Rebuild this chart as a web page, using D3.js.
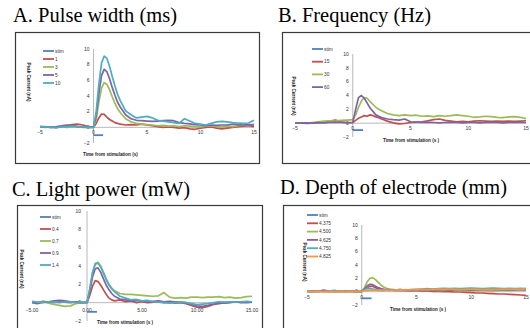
<!DOCTYPE html>
<html>
<head>
<meta charset="utf-8">
<script src="https://cdn.jsdelivr.net/npm/d3@7"></script>
<style>
  html, body { margin: 0; padding: 0; background: #fff; }
  svg { display: block; }
</style>
</head>
<body>
<div id="chart"></div>
<script>
// sample times (s) shared by every trace
const time = [-5, -4.5, -4, -3.5, -3, -2.5, -2, -1.5, -1, -0.5, 0,
  0.25, 0.5, 0.75, 1, 1.25, 1.5, 1.75, 2, 2.25, 2.5,
  3, 3.5, 4, 4.5, 5, 5.5, 6, 6.5, 7, 7.5, 8, 8.5, 9, 9.5, 10, 10.5, 11, 11.5, 12, 12.5, 13, 13.5, 14, 14.5, 15];

// stimulation marker
const stimTime = [0, 0.9];
const stimLevel = [-1, -1];

// A. pulse width
const pulseLabels = ['stim', '1', '3', '5', '10'];
const pw1 = [0.1, 0.0, 0.05, -0.05, 0.1, 0.2, 0.35, 0.4, 0.3, 0.1, 0.0,
  0.5, 1.2, 1.7, 1.65, 1.3, 1.0, 0.8, 0.6, 0.5, 0.4,
  0.3, 0.35, 0.3, 0.4, 0.3, 0.2, 0.1, 0.0, 0.05, 0.0, -0.1, -0.05, -0.2, -0.25, -0.1, 0.0, 0.05, -0.1, -0.2, -0.1, 0.0, 0.1, 0.15, 0.2, 0.1];
const pw3 = [0.05, 0.1, 0.0, 0.05, 0.1, 0.0, 0.05, 0.1, 0.0, -0.05, 0.0,
  1.0, 3.2, 5.0, 5.7, 5.5, 4.8, 3.9, 3.1, 2.4, 1.9,
  1.1, 0.7, 0.5, 0.4, 0.35, 0.3, 0.2, 0.25, 0.15, 0.2, 0.1, 0.2, 0.15, 0.1, 0.05, 0.15, 0.2, 0.1, 0.05, 0.15, 0.1, 0.2, 0.3, 0.25, 0.4];
const pw5 = [0.1, 0.05, 0.0, 0.05, 0.2, 0.3, 0.25, 0.1, 0.05, 0.0, 0.05,
  1.5, 4.3, 6.6, 7.4, 7.1, 6.2, 5.1, 4.1, 3.2, 2.6,
  1.6, 1.1, 0.9, 0.85, 0.8, 0.75, 0.8, 0.85, 0.9, 0.85, 0.6, 0.5, 0.45, 0.35, 0.3, 0.2, 0.3, 0.25, 0.3, 0.3, 0.4, 0.35, 0.3, 0.35, 0.3];
const pw10 = [0.1, 0.05, 0.0, -0.05, 0.05, 0.1, 0.15, 0.1, 0.05, 0.0, 0.0,
  2.0, 5.5, 8.2, 9.1, 8.8, 7.8, 6.5, 5.3, 4.2, 3.4,
  2.1, 1.6, 1.2, 1.3, 1.4, 1.2, 0.9, 0.8, 0.7, 0.6, 0.5, 1.1, 0.8, 0.5, 0.4, 0.3, 0.5, 0.7, 0.75, 0.7, 0.6, 0.55, 0.5, 0.55, 0.9];

// B. frequency
const freqLabels = ['stim', '15', '30', '60'];
const fq15 = [0.0, 0.05, -0.05, 0.0, 0.05, 0.1, 0.3, 0.45, 0.2, 0.1, 0.1,
  0.4, 0.7, 0.9, 1.1, 1.0, 1.2, 1.1, 0.9, 0.8, 0.6,
  0.3, 0.05, -0.1, -0.05, 0.1, 0.15, 0.2, 0.35, 0.5, 0.6, 0.4, 0.3, 0.2, 0.25, 0.2, 0.3, 0.35, 0.3, 0.25, 0.3, 0.25, 0.3, 0.25, 0.3, 0.35];
const fq30 = [0.0, 0.05, 0.0, 0.1, 0.2, 0.3, 0.35, 0.3, 0.4, 0.45, 0.5,
  1.2, 2.3, 3.2, 3.7, 3.6, 3.1, 2.7, 2.3, 2.0, 1.8,
  1.4, 1.2, 1.1, 1.2, 1.1, 1.15, 1.0, 1.05, 0.95, 1.1, 1.0, 1.1, 1.2, 1.1, 1.0, 0.85, 0.9, 1.0, 0.95, 0.85, 0.8, 0.9, 0.95, 0.85, 0.65];
const fq60 = [0.05, 0.0, 0.05, 0.0, 0.1, 0.05, 0.1, 0.15, 0.1, 0.05, 0.1,
  2.0, 3.7, 4.0, 3.6, 2.9, 2.2, 1.7, 1.2, 1.0, 0.8,
  0.6, 0.5, 0.45, 0.6, 0.2, 0.15, 0.1, 0.15, 0.1, 0.05, 0.1, 0.15, 0.1, 0.05, 0.1, 0.1, 0.05, 0.1, 0.15, 0.1, 0.05, 0.1, 0.1, 0.15, 0.1];

// C. light power
const powerLabels = ['stim', '0.4', '0.7', '0.9', '1.4'];
const lp04 = [0.1, 0.0, 0.15, 0.05, 0.0, 0.1, 0.05, 0.0, 0.1, 0.0, 0.0,
  0.8, 1.8, 2.4, 2.3, 1.9, 1.4, 0.9, 0.5, 0.3, 0.2,
  0.3, 0.1, 0.2, 0.0, 0.1, 0.0, 0.05, 0.1, 0.0, 0.05, -0.05, 0.0, -0.1, -0.3, -0.5, -0.55, -0.4, -0.2, -0.1, 0.0, 0.05, 0.1, 0.0, 0.05, 0.1];
const lp07 = [0.05, 0.0, 0.1, -0.05, -0.2, -0.3, -0.4, -0.35, -0.1, 0.0, 0.0,
  1.4, 3.2, 4.3, 4.4, 4.0, 3.3, 2.6, 2.0, 1.6, 1.3,
  1.0, 0.9, 0.9, 0.85, 0.8, 0.75, 0.7, 0.75, 1.1, 0.6, 0.5, 0.55, 0.5, 0.6, 0.6, 0.55, 0.6, 0.6, 0.65, 0.55, 0.6, 0.5, 0.55, 0.65, 0.7];
const lp09 = [0.0, -0.1, 0.05, 0.1, 0.2, 0.25, 0.2, 0.1, 0.05, 0.0, 0.05,
  1.2, 2.8, 3.7, 3.8, 3.3, 2.6, 1.9, 1.4, 1.0, 0.7,
  0.4, 0.3, 0.2, 0.25, 0.2, 0.1, 0.15, 0.2, 0.1, 0.15, 0.1, 0.05, 0.0, -0.2, -0.35, -0.4, -0.3, -0.15, 0.0, -0.05, 0.0, 0.1, 0.05, 0.0, 0.05];
const lp14 = [0.15, 0.05, 0.0, 0.1, 0.05, 0.0, 0.1, 0.05, 0.0, 0.05, 0.0,
  1.5, 3.3, 4.2, 4.3, 3.9, 3.2, 2.5, 1.9, 1.5, 1.2,
  0.7, 0.5, 0.3, 0.35, 0.2, 0.25, 0.1, 0.05, 0.0, -0.05, 0.0, 0.05, 0.0, -0.1, -0.2, -0.15, -0.1, 0.0, 0.1, 0.05, 0.1, 0.05, 0.1, 0.15, 0.1];

// D. depth of electrode
const depthLabels = ['stim', '4.375', '4.500', '4.625', '4.750', '4.825'];
const de4375 = [0.05, 0.0, 0.1, 0.05, 0.0, 0.05, 0.1, 0.05, 0.0, 0.05, 0.0,
  0.3, 0.6, 0.8, 0.8, 0.6, 0.45, 0.35, 0.3, 0.25, 0.25,
  0.2, 0.2, 0.15, 0.2, 0.15, 0.1, 0.1, 0.05, 0.05, 0.0, 0.0, -0.05, -0.05, -0.1, -0.15, -0.2, -0.2, -0.25, -0.3, -0.35, -0.35, -0.4, -0.45, -0.5, -0.55];
const de4500 = [0.1, 0.05, 0.1, 0.05, 0.1, 0.0, 0.05, 0.1, 0.05, 0.0, 0.05,
  0.6, 1.5, 2.0, 2.1, 1.8, 1.4, 1.0, 0.7, 0.5, 0.4,
  0.3, 0.25, 0.3, 0.25, 0.2, 0.25, 0.2, 0.25, 0.2, 0.2, 0.25, 0.2, 0.15, 0.2, 0.2, 0.15, 0.2, 0.2, 0.15, 0.2, 0.25, 0.2, 0.25, 0.3, 0.25];
const de4625 = [0.05, 0.1, 0.0, 0.25, 0.1, 0.05, 0.0, 0.05, 0.1, 0.0, 0.05,
  0.4, 0.9, 1.1, 1.05, 0.8, 0.6, 0.45, 0.35, 0.3, 0.3,
  0.25, 0.3, 0.25, 0.2, 0.25, 0.3, 0.25, 0.3, 0.35, 0.3, 0.25, 0.3, 0.35, 0.3, 0.25, 0.3, 0.35, 0.3, 0.3, 0.35, 0.3, 0.25, 0.3, 0.35, 0.3];
const de4750 = [0.0, 0.05, 0.0, 0.05, 0.1, 0.2, 0.05, 0.0, 0.1, 0.05, 0.0,
  0.3, 0.5, 0.45, 0.4, 0.3, 0.25, 0.2, 0.2, 0.25, 0.2,
  0.25, 0.3, 0.25, 0.3, 0.35, 0.4, 0.45, 0.4, 0.45, 0.5, 0.45, 0.5, 0.45, 0.5, 0.55, 0.5, 0.45, 0.5, 0.55, 0.5, 0.45, 0.5, 0.45, 0.5, 0.45];
const de4825 = [0.05, 0.0, 0.05, 0.0, 0.05, 0.0, 0.05, 0.0, 0.05, 0.0, 0.05,
  0.15, 0.2, 0.25, 0.2, 0.25, 0.2, 0.25, 0.2, 0.25, 0.2,
  0.25, 0.3, 0.25, 0.3, 0.3, 0.35, 0.3, 0.35, 0.4, 0.35, 0.4, 0.35, 0.3, 0.35, 0.4, 0.35, 0.3, 0.35, 0.3, 0.35, 0.4, 0.35, 0.4, 0.35, 0.45];

const xTicks = [-5, 0, 5, 10, 15];
const yTicks = [-2, 0, 2, 4, 6, 8, 10];

// Excel 2010 palette
const colors = ['#4F81BD', '#C0504D', '#9BBB59', '#8064A2', '#4BACC6', '#F79646'];

const width = 530;
const height = 328;

// layout of each panel (pixels)
const panels = [
  {
    title: 'A. Pulse width (ms)', tx: 13, ty: 22, tw: 164,
    box: [15, 32, 259, 163], xr: [40, 254], yr: [143, 49],
    labels: pulseLabels, series: [pw1, pw3, pw5, pw10],
    leg: [43, 51, 8], xLabDy: 7, yLabGap: 4,
    xTitle: ['Time from stimulation (s)', 83, 156], yTitle: [27, 82],
    fmt: d3.format('d'),
  },
  {
    title: 'B. Frequency (Hz)', tx: 278, ty: 22, tw: 153,
    box: [282, 32, 531, 163], xr: [295, 526], yr: [137, 54],
    labels: freqLabels, series: [fq15, fq30, fq60],
    leg: [312, 49, 12.7], xLabDy: 7, yLabGap: 4,
    xTitle: ['Time from stimulation (s )', 383, 142], yTitle: [292, 96],
    fmt: d3.format('d'),
  },
  {
    title: 'C. Light power (mW)', tx: 12, ty: 196, tw: 178,
    box: [17, 205, 262, 340], xr: [32, 252], yr: [321, 211],
    labels: powerLabels, series: [lp04, lp07, lp09, lp14],
    leg: [40, 217, 12], xLabDy: 9.5, yLabGap: 6,
    xTitle: ['Time from stimulation (s )', 97, 324], yTitle: [20, 269],
    fmt: d3.format('.2f'),
  },
  {
    title: 'D. Depth of electrode (mm)', tx: 280, ty: 194, tw: 227,
    box: [283, 205, 540, 340], xr: [307, 526], yr: [305, 225],
    labels: depthLabels, series: [de4375, de4500, de4625, de4750, de4825],
    leg: [307, 215, 8.3], xLabDy: 7.5, yLabGap: 4,
    xTitle: ['Time from stimulation (s )', 390, 311], yTitle: [303, 262],
    fmt: d3.format('d'),
  },
];

const svg = d3.select('#chart')
  .append('svg')
  .attr('width', width)
  .attr('height', height);

panels.forEach((p) => {
  const g = svg.append('g');
  const x = d3.scaleLinear().domain([-5, 15]).range(p.xr);
  const y = d3.scaleLinear().domain([-2, 10]).range(p.yr);

  // titulo
  g.append('text')
    .attr('x', p.tx)
    .attr('y', p.ty)
    .attr('font-family', '"Liberation Serif", "Times New Roman", serif')
    .attr('font-size', 20.5)
    .attr('fill', '#000')
    .attr('textLength', p.tw)
    .attr('lengthAdjust', 'spacingAndGlyphs')
    .text(p.title);

  // marco
  const [bx0, by0, bx1, by1] = p.box;
  g.append('rect')
    .attr('x', bx0 + 0.5)
    .attr('y', by0 + 0.5)
    .attr('width', bx1 - bx0)
    .attr('height', by1 - by0)
    .attr('fill', 'none')
    .attr('stroke', '#3a3a3a')
    .attr('stroke-width', 1.2);

  // ejes cruzando en el origen
  g.append('line')
    .attr('x1', x(-5)).attr('x2', x(15))
    .attr('y1', y(0)).attr('y2', y(0))
    .attr('stroke', '#a6a6a6').attr('stroke-width', 0.8);
  g.append('line')
    .attr('x1', x(0)).attr('x2', x(0))
    .attr('y1', y(10)).attr('y2', y(-2))
    .attr('stroke', '#a6a6a6').attr('stroke-width', 0.8);

  g.selectAll('.xt')
    .data(xTicks)
    .enter()
    .append('text')
    .attr('x', (d) => x(d))
    .attr('y', y(0) + p.xLabDy)
    .attr('text-anchor', 'middle')
    .attr('font-family', '"Liberation Sans", Arial, sans-serif')
    .attr('font-size', 5)
    .attr('fill', '#333')
    .text((d) => p.fmt(d).replace('-', '\u2212'));

  g.selectAll('.yt')
    .data(yTicks)
    .enter()
    .append('text')
    .attr('x', x(0) - p.yLabGap)
    .attr('y', (d) => y(d) + 1.8)
    .attr('text-anchor', 'end')
    .attr('font-family', '"Liberation Sans", Arial, sans-serif')
    .attr('font-size', 5)
    .attr('fill', '#333')
    .text((d) => String(d).replace('-', '\u2212'));

  // titulos de ejes
  g.append('text')
    .attr('x', p.xTitle[1])
    .attr('y', p.xTitle[2])
    .attr('font-family', '"Liberation Sans", Arial, sans-serif')
    .attr('font-size', 4.6)
    .attr('font-weight', 'bold')
    .attr('fill', '#222')
    .text(p.xTitle[0]);

  g.append('text')
    .attr('transform', `translate(${p.yTitle[0]},${p.yTitle[1]}) rotate(90)`)
    .attr('text-anchor', 'middle')
    .attr('font-family', '"Liberation Sans", Arial, sans-serif')
    .attr('font-size', 4.6)
    .attr('font-weight', 'bold')
    .attr('fill', '#222')
    .text('Peak Current (nA)');

  // trazos
  const line = d3.line()
    .x((d) => x(d[0]))
    .y((d) => y(d[1]));

  g.append('path')
    .datum(d3.zip(stimTime, stimLevel))
    .attr('d', line)
    .attr('fill', 'none')
    .attr('stroke', colors[0])
    .attr('stroke-width', 1.8);

  p.series.forEach((vals, i) => {
    g.append('path')
      .datum(d3.zip(time, vals))
      .attr('d', line)
      .attr('fill', 'none')
      .attr('stroke', colors[i + 1])
      .attr('stroke-width', 1.7)
      .attr('stroke-linejoin', 'round');
  });

  // leyenda
  const [lx, ly, ldy] = p.leg;
  const leg = g.selectAll('.leg')
    .data(p.labels)
    .enter()
    .append('g')
    .attr('transform', (d, i) => `translate(${lx},${ly + i * ldy})`);
  leg.append('line')
    .attr('x1', 0).attr('x2', 11)
    .attr('stroke', (d, i) => colors[i])
    .attr('stroke-width', 1.8);
  leg.append('text')
    .attr('x', 12)
    .attr('y', 1.7)
    .attr('font-family', '"Liberation Sans", Arial, sans-serif')
    .attr('font-size', 4.8)
    .attr('fill', '#333')
    .text((d) => d);
});
</script>
</body>
</html>
